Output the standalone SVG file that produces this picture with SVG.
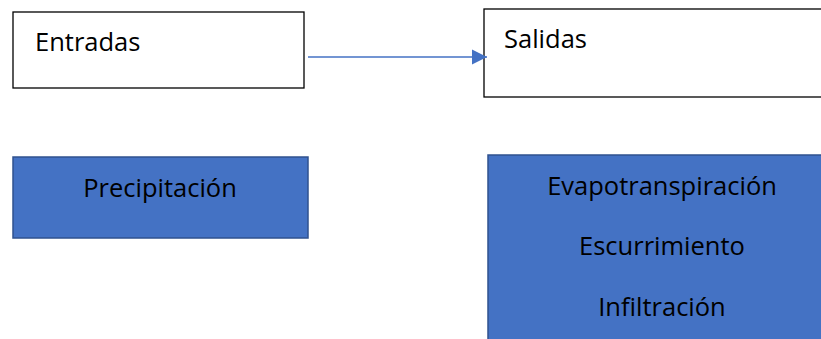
<svg xmlns="http://www.w3.org/2000/svg" width="821" height="339" viewBox="0 0 821 339">
<style>
.w{fill:#fff;stroke:#000;stroke-width:1.3}
.b{fill:#4472C4;stroke:#2F528F;stroke-width:1.5}
text{font-family:"Open Sans","Noto Sans",sans-serif;font-size:25.5px;fill:#000}
.c{text-anchor:middle}
</style>
<defs>
<marker id="ah" markerWidth="16" markerHeight="16" refX="15" refY="8" orient="auto" markerUnits="userSpaceOnUse">
<path d="M0,0.5 L15,8 L0,15.5 Z" fill="#4472C4"/>
</marker>
</defs>
<rect width="821" height="339" fill="#fff"/>
<g id="entradas"><rect class="w" x="13" y="12" width="291" height="76"/><text x="35" y="51">Entradas</text></g>
<g id="salidas"><rect class="w" x="484" y="9" width="340" height="88"/><text x="504" y="48">Salidas</text></g>
<g id="precipitacion"><rect class="b" x="13" y="157" width="295" height="81"/><text class="c" x="160" y="197">Precipitación</text></g>
<g id="salidas-lista"><rect class="b" x="488" y="155" width="340" height="190"/>
<text class="c" x="662" y="195">Evapotranspiración</text>
<text class="c" x="662" y="255">Escurrimiento</text>
<text class="c" x="662" y="316">Infiltración</text></g>
<g id="connectors"><line x1="308" y1="57" x2="487" y2="57" stroke="#4472C4" stroke-width="1.5" marker-end="url(#ah)"/></g>
</svg>
